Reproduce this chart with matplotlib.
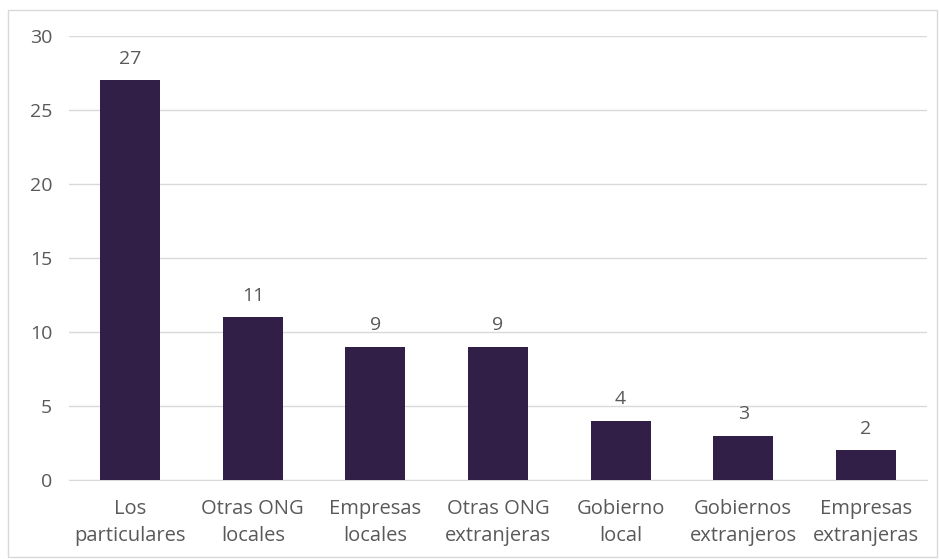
import matplotlib
matplotlib.use("Agg")
import matplotlib.pyplot as plt
from matplotlib.patches import Rectangle

categories = ["Los\nparticulares", "Otras ONG\nlocales", "Empresas\nlocales", "Otras ONG\nextranjeras",
              "Gobierno\nlocal", "Gobiernos\nextranjeros", "Empresas\nextranjeras"]
values = [27, 11, 9, 9, 4, 3, 2]
yticks = [0, 5, 10, 15, 20, 25, 30]

plt.rcParams['font.family'] = ['Open Sans', 'DejaVu Sans']
W, H = 939, 559
fig = plt.figure(figsize=(W/100, H/100), dpi=100)
ax = fig.add_axes([69/W, 1-480/H, (927-69)/W, (480-36)/H])

bar_color = "#311F47"
text_color = "#595959"
x = range(len(categories))
bars = ax.bar(x, values, width=0.49, color=bar_color, zorder=3)
for xi, v in zip(x, values):
    ax.annotate(str(v), (xi, v), xytext=(0, 9), textcoords="offset points",
                ha="center", va="bottom", fontsize=14, color=text_color)

ax.set_xlim(-0.5, len(categories) - 0.5)
ax.set_ylim(0, 30)
ax.set_yticks(yticks)
ax.set_xticks(list(x))
ax.set_xticklabels(categories, fontsize=14.5, color=text_color, linespacing=1.45)
ax.tick_params(axis='y', labelsize=14, labelcolor=text_color, length=0, pad=12)
ax.tick_params(axis='x', length=0, pad=14)
ax.grid(axis='y', color="#D9D9D9", linewidth=1, zorder=0)
for s in ["top", "right", "left"]:
    ax.spines[s].set_visible(False)
ax.spines["bottom"].set_color("#D9D9D9")

fig.patches.append(Rectangle((8/W, 1-557/H), (937-8)/W, (557-10)/H, transform=fig.transFigure,
                             fill=False, edgecolor="#D9D9D9", linewidth=1))
fig.savefig("out.png", dpi=100)
